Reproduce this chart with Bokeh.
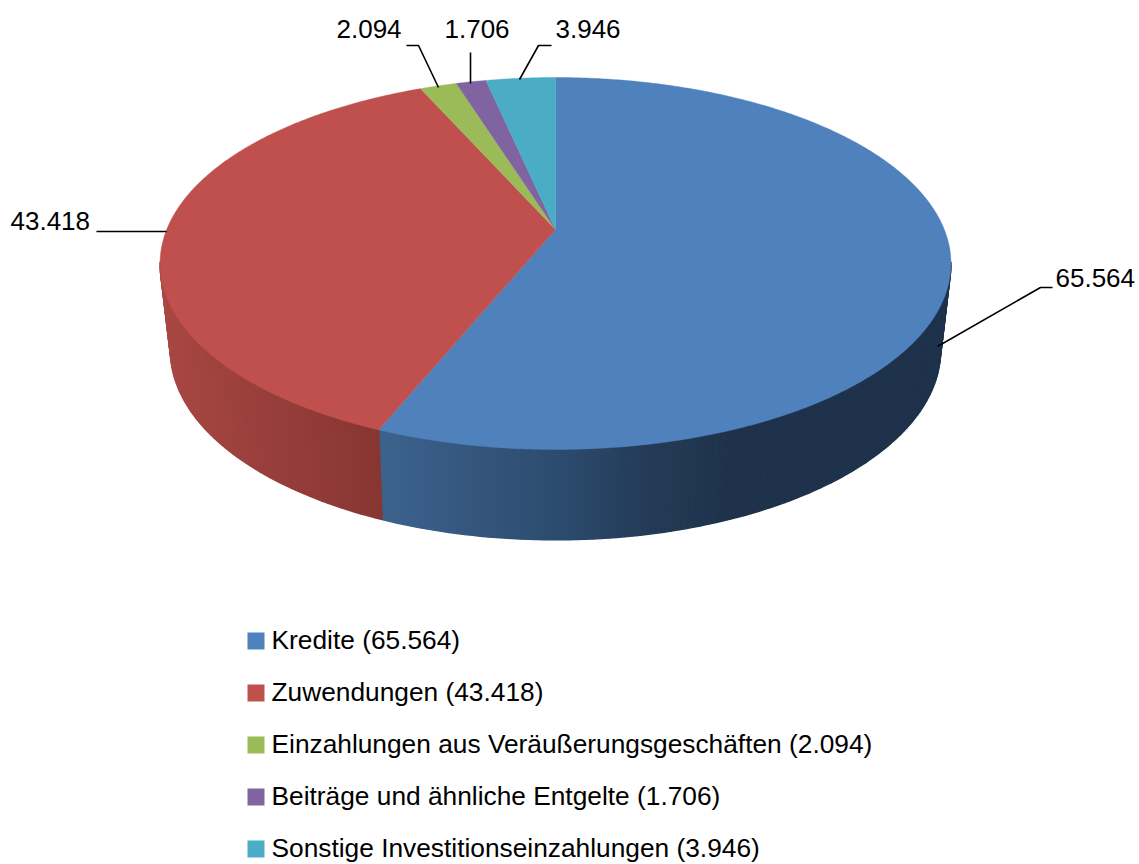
import numpy as np
from bokeh.plotting import figure
from bokeh.embed import file_html
from bokeh.resources import INLINE
from bokeh.core.properties import value

categories = ["Kredite", "Zuwendungen", "Einzahlungen aus Veräußerungsgeschäften",
              "Beiträge und ähnliche Entgelte", "Sonstige Investitionseinzahlungen"]
values = [65.564, 43.418, 2.094, 1.706, 3.946]
value_labels = ["65.564", "43.418", "2.094", "1.706", "3.946"]
colors = ["#4F81BD", "#C0504D", "#9BBB59", "#8064A2", "#4BACC6"]

FONT = value("Liberation Sans")
W, H = 1139, 864
p = figure(width=W, height=H, x_range=(0, W), y_range=(H, 0),
           toolbar_location=None, output_backend="svg", min_border=0,
           outline_line_color=None, background_fill_color="white", border_fill_color="white")
p.axis.visible = False
p.grid.visible = False

CX = 555.0
TOP = dict(a=388.8, b=179.8, k=0.1828, cy=229.0)
BOT = dict(a=378.0, b=182.5, k=0.19, cy=314.0)

def project(theta, g):
    u, v = np.sin(theta), -np.cos(theta)
    d = 1 - g["k"] * v
    return CX + g["a"] * u / d, g["cy"] + g["b"] * v / d

def hex2rgb(h):
    return np.array([int(h[i:i + 2], 16) for i in (1, 3, 5)], float)

def shade(x, stops):
    xs = [s[0] for s in stops]
    rgb = np.array([hex2rgb(s[1]) for s in stops])
    c = [int(round(np.interp(x, xs, rgb[:, i]))) for i in range(3)]
    return "#%02x%02x%02x" % tuple(c)

side_stops = {
    0: [(384, "#3c628c"), (560, "#2c4b6e"), (640, "#253c59"), (730, "#1e324b"), (950, "#1e324b")],
    1: [(160, "#a84743"), (384, "#863532")],
}

fr = np.cumsum([0] + values) / sum(values) * 2 * np.pi

# side walls
xs_s, ys_s, cs_s = [], [], []
for i in (0, 1):
    lo, hi = fr[i], fr[i + 1]
    lo2 = max(lo, np.radians(100))
    hi2 = min(hi, np.radians(260))
    edges = np.linspace(lo2, hi2, int((hi2 - lo2) / np.radians(1.0)) + 2)
    for a0, a1 in zip(edges[:-1], edges[1:]):
        t = np.array([a0, a1])
        xt, yt = project(t, TOP)
        xb, yb = project(t, BOT)
        xs_s.append([xt[0], xt[1], xb[1], xb[0]])
        ys_s.append([yt[0], yt[1], yb[1], yb[0]])
        cs_s.append(shade((xt[0] + xt[1]) / 2, side_stops[i]))
p.patches(xs_s, ys_s, fill_color=cs_s, line_color=cs_s, line_width=1.5)

# top face
for i, c in enumerate(colors):
    th = np.linspace(fr[i], fr[i + 1], max(4, int((fr[i + 1] - fr[i]) / np.radians(0.5))))
    x, y = project(th, TOP)
    p.patch([CX] + list(x), [TOP["cy"]] + list(y), fill_color=c, line_color=c, line_width=0.4)

# leader lines and data labels
leader_x = [[937, 1040, 1052], [166, 96], [406, 418, 438], [470, 470], [551, 538, 519]]
leader_y = [[346, 287, 287], [231, 231], [45, 45, 87], [52, 83], [45, 45, 79]]
p.multi_line(leader_x, leader_y, line_color="black", line_width=1.6)

label_x = [1055, 10, 336, 444, 555]
label_y = [277, 220, 28, 28, 28]
p.text(label_x, label_y, text=value_labels, text_font=FONT, text_font_size="26px",
       text_baseline="middle", text_align="left", text_color="black")

# legend
leg_top = [632, 684, 736, 788, 840]
p.quad(left=[247] * 5, right=[264] * 5, top=leg_top, bottom=[t + 17 for t in leg_top], fill_color=colors, line_color=None)
leg_text = [f"{c} ({v})" for c, v in zip(categories, value_labels)]
p.text([271] * 5, [t + 7 for t in leg_top], text=leg_text, text_font=FONT, text_font_size="26.3px",
       text_baseline="middle", text_align="left", text_color="black")

open("out.html", "w").write(file_html(p, INLINE))
